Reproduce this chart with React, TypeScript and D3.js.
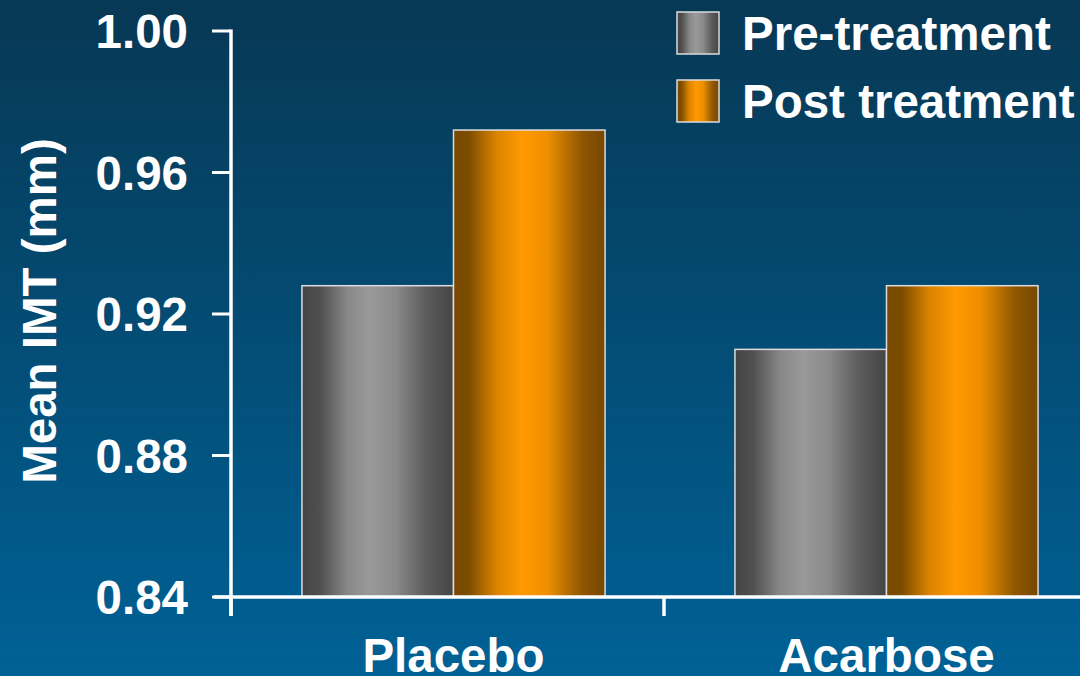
import React from "react";
import * as d3 from "d3";

const WIDTH = 1080;
const HEIGHT = 676;

const categories = ["Placebo", "Acarbose"];
const seriesNames = ["Pre-treatment", "Post treatment"];
const preValues = [0.928, 0.91];
const postValues = [0.972, 0.928];
const yTicks = [0.84, 0.88, 0.92, 0.96, 1.0];

const FONT = "'Liberation Sans', Arial, Helvetica, sans-serif";

export default function App() {
  const y = d3.scaleLinear().domain([0.84, 1.0]).range([597, 31]);
  const xAxisScale = d3.scaleBand().domain(categories).range([231, 1097]);
  const x = d3.scaleBand().domain(categories).range([237, 1103]);
  const groupWidth = x.bandwidth() * 0.7;
  const xs = d3
    .scaleBand()
    .domain(seriesNames)
    .range([0, groupWidth]);

  const values = [preValues, postValues];
  const fills = ["url(#gradGray)", "url(#gradOrange)"];

  const axisLeft = xAxisScale.range()[0];
  const base = y(0.84);

  return (
    <svg
      width={WIDTH}
      height={HEIGHT}
      style={{ position: "absolute", left: 0, top: 0 }}
    >
      <defs>
        <linearGradient id="bg" x1="0" y1="0" x2="0" y2="1">
          <stop offset="0%" stopColor="#073854" />
          <stop offset="100%" stopColor="#006196" />
        </linearGradient>
        <linearGradient id="gradGray" x1="0" y1="0" x2="1" y2="0">
          <stop offset="0%" stopColor="#444444" />
          <stop offset="12%" stopColor="#505050" />
          <stop offset="30%" stopColor="#888888" />
          <stop offset="45%" stopColor="#999999" />
          <stop offset="62%" stopColor="#8a8a8a" />
          <stop offset="82%" stopColor="#5c5c5c" />
          <stop offset="100%" stopColor="#444444" />
        </linearGradient>
        <linearGradient id="gradOrange" x1="0" y1="0" x2="1" y2="0">
          <stop offset="0%" stopColor="#784900" />
          <stop offset="10%" stopColor="#7c4c00" />
          <stop offset="28%" stopColor="#d98300" />
          <stop offset="45%" stopColor="#ff9900" />
          <stop offset="62%" stopColor="#ee8f00" />
          <stop offset="85%" stopColor="#8e5600" />
          <stop offset="100%" stopColor="#774800" />
        </linearGradient>
      </defs>

      <rect x={0} y={0} width={WIDTH} height={HEIGHT} fill="url(#bg)" />

      {/* bars */}
      {categories.map((cat, ci) => {
        const gx = (x(cat) as number) + (x.bandwidth() - groupWidth) / 2;
        return seriesNames.map((s, si) => {
          const v = values[si][ci];
          return (
            <rect
              key={cat + s}
              x={gx + (xs(s) as number)}
              y={y(v)}
              width={xs.bandwidth()}
              height={base - y(v)}
              fill={fills[si]}
              stroke="#dcdcdc"
              strokeWidth={1.5}
            />
          );
        });
      })}

      {/* y axis */}
      <line
        x1={axisLeft}
        x2={axisLeft}
        y1={y(1.0) - 1.5}
        y2={616}
        stroke="#ffffff"
        strokeWidth={3.5}
      />
      {yTicks.map((t) => (
        <g key={t}>
          <line
            x1={212}
            x2={axisLeft}
            y1={y(t)}
            y2={y(t)}
            stroke="#ffffff"
            strokeWidth={3}
          />
          <text
            x={188}
            y={y(t)}
            dy="0.36em"
            textAnchor="end"
            fill="#ffffff"
            fontFamily={FONT}
            fontWeight="bold"
            fontSize={47.5}
          >
            {d3.format(".2f")(t)}
          </text>
        </g>
      ))}

      {/* x axis */}
      <line
        x1={214}
        x2={WIDTH}
        y1={base}
        y2={base}
        stroke="#ffffff"
        strokeWidth={3.5}
      />
      {categories.map((cat) => (
        <line
          key={cat}
          x1={xAxisScale(cat) as number}
          x2={xAxisScale(cat) as number}
          y1={base}
          y2={616}
          stroke="#ffffff"
          strokeWidth={3.5}
        />
      ))}
      {categories.map((cat) => (
        <text
          key={cat}
          x={(x(cat) as number) + x.bandwidth() / 2}
          y={672}
          textAnchor="middle"
          fill="#ffffff"
          fontFamily={FONT}
          fontWeight="bold"
          fontSize={47.5}
        >
          {cat}
        </text>
      ))}

      {/* y axis title */}
      <text
        transform={`translate(56, ${(y(1.0) + base) / 2 - 3}) rotate(-90)`}
        textAnchor="middle"
        fill="#ffffff"
        fontFamily={FONT}
        fontWeight="bold"
        fontSize={47.5}
      >
        Mean IMT (mm)
      </text>

      {/* legend */}
      {seriesNames.map((s, i) => (
        <g key={s} transform={`translate(677, ${12 + i * 68})`}>
          <rect
            x={0}
            y={0}
            width={42}
            height={42}
            fill={fills[i]}
            stroke="#dcdcdc"
            strokeWidth={1.5}
          />
          <text
            x={65}
            y={21}
            dy="0.36em"
            fill="#ffffff"
            fontFamily={FONT}
            fontWeight="bold"
            fontSize={47.5}
          >
            {s}
          </text>
        </g>
      ))}
    </svg>
  );
}
